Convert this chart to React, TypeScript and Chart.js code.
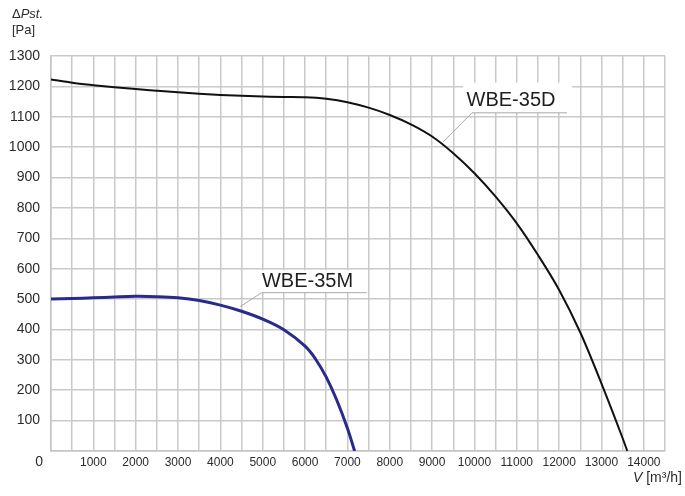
import React, { useEffect, useRef } from "react";
import { Chart, registerables } from "chart.js";

Chart.register(...registerables);

// Flow [m3/h] and static pressure [Pa]
const flowD = [0, 500, 1000, 1500, 2000, 2500, 3000, 3500, 4000, 4500, 5000, 5500, 6000, 6500, 7000, 7500, 8000, 8500, 9000, 9500, 10000, 10500, 11000, 11500, 12000, 12500, 13000, 13500, 13610];
const pressD = [1223, 1212, 1204, 1197, 1191, 1186, 1181, 1176, 1172, 1169, 1167, 1165, 1164, 1159, 1148, 1130, 1106, 1075, 1035, 980, 914, 837, 749, 645, 530, 390, 222, 42, 0];

const flowM = [0, 500, 1000, 1500, 2000, 2500, 3000, 3500, 4000, 4500, 5000, 5500, 6000, 6250, 6500, 6750, 7000, 7170];
const pressM = [500, 502, 504, 507, 509, 508, 504, 495, 480, 460, 434, 399, 345, 302, 243, 167, 75, 0];

const xTickLabels = [1000, 2000, 3000, 4000, 5000, 6000, 7000, 8000, 9000, 10000, 11000, 12000, 13000, 14000];
const yTickLabels = [100, 200, 300, 400, 500, 600, 700, 800, 900, 1000, 1100, 1200, 1300];

// Annotation labels (data coordinates)
const labelNames = ["WBE-35D", "WBE-35M"];
const labelX = [10863, 6057];
const labelY = [1155, 558];
const leaderDx = [9257, 9942, 12186];
const leaderDy = [1017, 1113, 1113];
const leaderMx = [4463, 4975, 7455];
const leaderMy = [475, 521, 521];
const boxX0 = [9730, 4930];
const boxX1 = [12305, 7470];
const boxY0 = [1113, 521];
const boxY1 = [1212, 595];

const FONT = "'Liberation Sans', Arial, sans-serif";
const TEXT = "#2b2b2b";

const toPts = (xs: number[], ys: number[]) => xs.map((x, i) => ({ x, y: ys[i] }));

const decor = {
  id: "decor",
  beforeDatasetsDraw(chart: any) {
    const { ctx, scales } = chart;
    const xs = scales.x, ys = scales.y;
    ctx.save();
    ctx.fillStyle = "#ffffff";
    for (let i = 0; i < boxX0.length; i++) {
      const x0 = xs.getPixelForValue(boxX0[i]);
      const x1 = xs.getPixelForValue(boxX1[i]);
      const y0 = ys.getPixelForValue(boxY1[i]);
      const y1 = ys.getPixelForValue(boxY0[i]);
      ctx.fillRect(x0, y0, x1 - x0, y1 - y0);
    }
    ctx.restore();
  },
  afterDatasetsDraw(chart: any) {
    const { ctx, scales } = chart;
    ctx.save();
    ctx.fillStyle = "#1e1e1e";
    ctx.font = `20px ${FONT}`;
    ctx.textAlign = "center";
    ctx.textBaseline = "middle";
    for (let i = 0; i < labelNames.length; i++) {
      ctx.fillText(labelNames[i], scales.x.getPixelForValue(labelX[i]), scales.y.getPixelForValue(labelY[i]));
    }
    ctx.restore();
  },
  afterDraw(chart: any) {
    const { ctx, chartArea } = chart;
    ctx.save();
    ctx.fillStyle = TEXT;
    ctx.textBaseline = "middle";
    // Y axis title
    ctx.textAlign = "left";
    ctx.font = `13px ${FONT}`;
    ctx.fillText("\u0394", 12, 14);
    const dw = ctx.measureText("\u0394").width;
    ctx.font = `italic 13px ${FONT}`;
    ctx.fillText("Pst.", 12 + dw, 14);
    ctx.font = `13px ${FONT}`;
    ctx.fillText("[Pa]", 12, 30);
    // zero label
    ctx.font = `14px ${FONT}`;
    ctx.textAlign = "right";
    ctx.fillText("0", chartArea.left - 8, chartArea.bottom + 11);
    // X axis title
    ctx.font = `14px ${FONT}`;
    const rest = " [m\u00B3/h]";
    const rw = ctx.measureText(rest).width;
    ctx.textAlign = "right";
    ctx.fillText(rest, 682, 478);
    ctx.font = `italic 14px ${FONT}`;
    ctx.fillText("V", 682 - rw, 478);
    ctx.restore();
  },
};

export default function App() {
  const ref = useRef<HTMLCanvasElement | null>(null);
  useEffect(() => {
    if (!ref.current) return;
    const chart = new Chart(ref.current, {
      type: "line",
      data: {
        datasets: [
          {
            data: toPts(flowD, pressD),
            borderColor: "#111111",
            borderWidth: 2,
            pointRadius: 0,
            cubicInterpolationMode: "monotone",
            fill: false,
          },
          {
            data: toPts(flowM, pressM),
            borderColor: "#2a2a8c",
            borderWidth: 3,
            pointRadius: 0,
            tension: 0.4,
            fill: false,
          },
          {
            data: toPts(leaderDx, leaderDy),
            borderColor: "#a8a8a8",
            borderWidth: 1,
            pointRadius: 0,
            tension: 0,
          },
          {
            data: toPts(leaderMx, leaderMy),
            borderColor: "#a8a8a8",
            borderWidth: 1,
            pointRadius: 0,
            tension: 0,
          },
        ],
      },
      options: {
        animation: false,
        responsive: false,
        layout: { padding: { top: 56, right: 20, left: 0, bottom: 0 } },
        plugins: { legend: { display: false }, tooltip: { enabled: false } },
        scales: {
          x: {
            type: "linear",
            min: 0,
            max: 14500,
            afterFit: (s: any) => { s.height = 45; },
            border: { color: "#c4c4c4", width: 1.5 },
            grid: { color: "#c9c9c9", lineWidth: 1.5, drawTicks: false },
            ticks: {
              stepSize: 500,
              autoSkip: false,
              maxRotation: 0,
              padding: 4,
              color: TEXT,
              font: { family: FONT, size: 12 },
              callback: (v: any) => (xTickLabels.includes(Number(v)) ? String(v) : ""),
            },
          },
          y: {
            type: "linear",
            min: 0,
            max: 1300,
            afterFit: (s: any) => { s.width = 51; },
            border: { color: "#c4c4c4", width: 1.5 },
            grid: { color: "#c9c9c9", lineWidth: 1.5, drawTicks: false },
            ticks: {
              stepSize: 100,
              autoSkip: false,
              padding: 11,
              color: TEXT,
              font: { family: FONT, size: 14 },
              callback: (v: any) => (yTickLabels.includes(Number(v)) ? String(v) : ""),
            },
          },
        },
      },
      plugins: [decor],
    } as any);
    return () => chart.destroy();
  }, []);
  return (
    <div style={{ position: "absolute", left: 0, top: 0, width: 685, height: 496, background: "#fff" }}>
      <canvas ref={ref} width={685} height={496} style={{ display: "block" }} />
    </div>
  );
}
